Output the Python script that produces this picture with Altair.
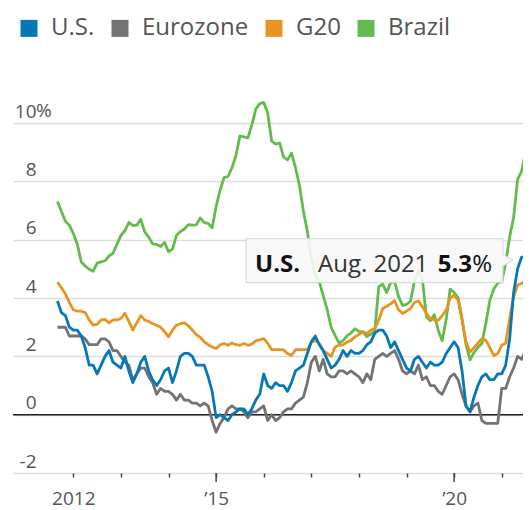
import altair as alt
import pandas as pd

FONT = "Open Sans"

START_YEAR, START_MONTH = 2011, 9  # first monthly observation: Sept. 2011

# Year-over-year consumer-price inflation, %, Sept. 2011 - Aug. 2021
us = [3.9, 3.5, 3.4, 3.0,
      2.9, 2.9, 2.7, 2.3, 1.7, 1.7, 1.4, 1.7, 2.0, 2.2, 1.8, 1.7,
      1.6, 2.0, 1.5, 1.1, 1.4, 1.8, 2.0, 1.5, 1.2, 1.0, 1.2, 1.5,
      1.6, 1.1, 1.5, 2.0, 2.1, 2.1, 2.0, 1.7, 1.7, 1.7, 1.3, 0.8,
      -0.1, 0.0, -0.1, -0.2, 0.0, 0.1, 0.2, 0.2, 0.0, 0.2, 0.5, 0.7,
      1.4, 1.0, 0.9, 1.1, 1.0, 1.0, 0.8, 1.1, 1.5, 1.6, 1.7, 2.1,
      2.5, 2.7, 2.4, 2.2, 1.9, 1.6, 1.7, 1.9, 2.2, 2.0, 2.2, 2.1,
      2.1, 2.2, 2.4, 2.5, 2.8, 2.9, 2.9, 2.7, 2.3, 2.5, 2.2, 1.9,
      1.6, 1.5, 1.9, 2.0, 1.8, 1.6, 1.8, 1.7, 1.7, 1.8, 2.1, 2.3,
      2.5, 2.3, 1.5, 0.3, 0.1, 0.6, 1.0, 1.3, 1.4, 1.2, 1.2, 1.4,
      1.4, 1.7, 2.6, 4.2, 5.0, 5.4, 5.4, 5.3]

eurozone = [3.0, 3.0, 3.0, 2.7,
            2.7, 2.7, 2.7, 2.6, 2.4, 2.4, 2.4, 2.6, 2.6, 2.5, 2.2, 2.2,
            2.0, 1.8, 1.7, 1.2, 1.4, 1.6, 1.6, 1.3, 1.1, 0.7, 0.9, 0.8,
            0.8, 0.7, 0.5, 0.7, 0.5, 0.5, 0.4, 0.4, 0.3, 0.4, 0.3, -0.2,
            -0.6, -0.3, -0.1, 0.2, 0.3, 0.2, 0.2, 0.1, -0.1, 0.1, 0.1, 0.2,
            0.3, -0.2, 0.0, -0.2, -0.1, 0.1, 0.2, 0.2, 0.4, 0.5, 0.6, 1.1,
            1.8, 2.0, 1.5, 1.9, 1.4, 1.3, 1.3, 1.5, 1.5, 1.4, 1.5, 1.4,
            1.3, 1.1, 1.4, 1.2, 1.9, 2.0, 2.1, 2.0, 2.1, 2.2, 1.9, 1.5,
            1.4, 1.5, 1.4, 1.7, 1.2, 1.3, 1.0, 1.0, 0.8, 0.7, 1.0, 1.3,
            1.4, 1.2, 0.7, 0.3, 0.1, 0.3, 0.4, -0.2, -0.3, -0.3, -0.3, -0.3,
            0.9, 0.9, 1.3, 1.6, 2.0, 1.9, 2.2, 3.0]

g20 = [4.55, 4.35, 4.15, 3.85,
       3.6, 3.55, 3.55, 3.5, 3.25, 3.07, 3.1, 3.25, 3.27, 3.15, 3.25, 3.25,
       3.3, 3.48, 3.2, 2.9, 3.15, 3.4, 3.25, 3.2, 3.12, 3.07, 3.0, 2.85,
       2.67, 2.9, 3.07, 3.12, 3.15, 3.05, 2.9, 2.75, 2.65, 2.5, 2.4, 2.32,
       2.27, 2.4, 2.44, 2.38, 2.46, 2.4, 2.38, 2.44, 2.38, 2.42, 2.53, 2.57,
       2.61, 2.45, 2.23, 2.23, 2.23, 2.22, 2.1, 2.03, 2.23, 2.23, 2.23, 2.23,
       2.49, 2.55, 2.45, 2.2, 2.1, 2.0, 2.32, 2.38, 2.4, 2.49, 2.55, 2.67,
       2.75, 2.84, 2.78, 2.9, 2.95, 3.24, 3.64, 3.72, 3.8, 3.91, 3.59, 3.47,
       3.55, 3.64, 3.85, 3.9, 3.7, 3.47, 3.3, 3.25, 3.24, 3.4, 3.59, 4.0,
       4.1, 3.93, 3.24, 2.5, 2.15, 2.3, 2.45, 2.61, 2.55, 2.3, 2.03, 2.1,
       2.38, 2.45, 3.3, 4.05, 4.45, 4.5, 4.6, 4.62]

brazil = [7.31, 6.97, 6.64, 6.50,
          6.22, 5.85, 5.24, 5.10, 4.99, 4.92, 5.20, 5.24, 5.28, 5.45, 5.53, 5.84,
          6.15, 6.31, 6.59, 6.49, 6.50, 6.70, 6.27, 6.09, 5.86, 5.84, 5.77, 5.91,
          5.59, 5.68, 6.15, 6.28, 6.37, 6.52, 6.50, 6.51, 6.75, 6.59, 6.56, 6.41,
          7.14, 7.70, 8.13, 8.17, 8.47, 8.89, 9.56, 9.53, 9.49, 9.93, 10.48, 10.67,
          10.71, 10.36, 9.39, 9.28, 9.32, 8.84, 8.74, 8.97, 8.48, 7.87, 6.99, 6.29,
          5.35, 4.76, 4.57, 4.08, 3.60, 3.00, 2.71, 2.46, 2.54, 2.70, 2.80, 2.95,
          2.86, 2.84, 2.68, 2.76, 2.86, 4.39, 4.48, 4.19, 4.53, 4.56, 4.05, 3.75,
          3.78, 3.89, 4.58, 4.94, 4.66, 3.37, 3.22, 3.43, 2.89, 2.54, 3.27, 4.31,
          4.19, 4.01, 3.30, 2.40, 1.88, 2.13, 2.31, 2.44, 3.14, 3.92, 4.31, 4.52,
          4.56, 5.20, 6.10, 6.76, 8.06, 8.35, 8.99, 9.68]

series_names = ["U.S.", "Eurozone", "G20", "Brazil"]
series_colors = ["#0877b5", "#737373", "#e8941f", "#62bb4d"]
draw_order = ["Brazil", "G20", "Eurozone", "U.S."]

y_ticks = [-2, 0, 2, 4, 6, 8, 10]
x_ticks = [2012, 2013, 2014, 2015, 2016, 2017, 2018, 2019, 2020, 2021]
x_labels = {2012: "2012", 2015: "\u201915", 2020: "\u201920"}
major_years = [2015, 2020]

tip_series = "U.S."
tip_period = "Aug. 2021"
tip_year, tip_month = 2021, 8
tip_value = 5.3

rows = []
for name, vals in zip(series_names, [us, eurozone, g20, brazil]):
    for i, v in enumerate(vals):
        m = START_MONTH - 1 + i
        rows.append({"series": name, "t": START_YEAR + m // 12 + (m % 12) / 12, "v": v})
df = pd.DataFrame(rows)

label_expr = "".join(
    f"datum.value == {k} ? '{v}' : " for k, v in x_labels.items()
) + "''"

W, H = 510, 379
x_scale = alt.Scale(domain=[2010.733, 2021.447], nice=False, zero=False)
y_scale = alt.Scale(domain=[-2, 11], nice=False, zero=False)

x_enc = alt.X(
    "t:Q", scale=x_scale,
    axis=alt.Axis(values=x_ticks, labelExpr=label_expr, title=None, grid=False,
                  domain=False, ticks=True, tickSize=4, tickWidth=1.5,
                  tickColor="#444", labelFont=FONT, labelFontSize=19,
                  labelColor="#555", labelPadding=27, labelBaseline="alphabetic",
                  labelFlush=False, labelOverlap=False),
)
y_enc = alt.Y(
    "v:Q", scale=y_scale,
    axis=alt.Axis(values=y_ticks, title=None, grid=True, gridColor="#dddddd",
                  gridWidth=1.5, domain=False, ticks=False, tickSize=0,
                  labelAlign="right", labelPadding=-23, labelOffset=-6,
                  labelBaseline="alphabetic", labelExpr="'' + datum.value",
                  labelFont=FONT, labelFontSize=19, labelColor="#555",
                  labelOverlap=False, labelFlush=False),
)

legend = alt.Legend(
    title=None, orient="none", legendX=4, legendY=-78, direction="horizontal",
    symbolType="square", symbolSize=72, symbolStrokeWidth=8.5,
    labelFont=FONT, labelFontSize=24, labelColor="#555", labelOffset=10,
    columnPadding=3, padding=0,
)
color_enc = alt.Color("series:N",
                      scale=alt.Scale(domain=series_names, range=series_colors),
                      legend=legend)

zero_rule = alt.Chart(pd.DataFrame({"v": [0]})).mark_rule(
    color="#222", strokeWidth=1.5).encode(y=alt.Y("v:Q", scale=y_scale))

major_ticks = alt.Chart(pd.DataFrame({"t": major_years})).mark_rule(
    color="#444", strokeWidth=1.5).encode(
    x=alt.X("t:Q", scale=x_scale), y=alt.value(H), y2=alt.value(H + 9))

pct = alt.Chart(pd.DataFrame({"v": [max(y_ticks)]})).mark_text(
    text="%", align="left", baseline="alphabetic", dy=-6, font=FONT,
    fontSize=19, color="#555").encode(x=alt.value(23), y=alt.Y("v:Q", scale=y_scale))

lines = [
    alt.Chart(df).transform_filter(alt.datum.series == s).mark_line(
        strokeWidth=2.8, strokeJoin="round", clip=True).encode(x=x_enc, y=y_enc, color=color_enc)
    for s in draw_order
]

tip_df = pd.DataFrame({"t": [tip_year + (tip_month - 1) / 12], "v": [tip_value],
                       "series": [tip_series], "period": [tip_period],
                       "num": [f"{tip_value:.1f}"]})
tx = alt.X("t:Q", scale=x_scale)
ty = alt.Y("v:Q", scale=y_scale)
tip_box = alt.Chart(tip_df).mark_rect(
    fill="#f7f7f7", fillOpacity=0.9, stroke="#d4d4d4", strokeWidth=1,
    xOffset=-283.5, x2Offset=-26.5, yOffset=-21.5, y2Offset=22.5,
).encode(x=tx, x2="t", y=ty, y2="v")
tip_arrow = alt.Chart(tip_df).mark_point(
    shape="M0,-1L1.7,0L0,1", size=169, filled=True, fill="#f7f7f7",
    stroke="#d4d4d4", strokeWidth=1, opacity=1, xOffset=-27.5,
).encode(x=tx, y=ty)
tip_name = alt.Chart(tip_df).mark_text(
    align="left", baseline="alphabetic", dx=-274.5, dy=11.5, font=FONT,
    fontSize=24, fontWeight="bold", color="#111").encode(x=tx, y=ty, text="series:N")
tip_date = alt.Chart(tip_df).mark_text(
    align="left", baseline="alphabetic", dx=-211.5, dy=11.5, font=FONT,
    fontSize=24, color="#333").encode(x=tx, y=ty, text="period:N")
tip_num = alt.Chart(tip_df).mark_text(
    align="right", baseline="alphabetic", dx=-57.5, dy=11.5, font=FONT,
    fontSize=24, fontWeight="bold", color="#111").encode(x=tx, y=ty, text="num:N")
tip_pct = alt.Chart(tip_df).mark_text(
    text="%", align="right", baseline="alphabetic", dx=-37.5, dy=11.5, font=FONT,
    fontSize=24, color="#111").encode(x=tx, y=ty)

chart = alt.layer(
    zero_rule, major_ticks, pct, *lines,
    tip_box, tip_arrow, tip_name, tip_date, tip_num, tip_pct,
).properties(
    width=W, height=H,
    autosize=alt.AutoSizeParams(type="none"),
    padding={"left": 5, "top": 86, "right": 0, "bottom": 37},
).configure_view(stroke=None)

chart.save("out.html", embed_options={"renderer": "svg", "actions": False})
